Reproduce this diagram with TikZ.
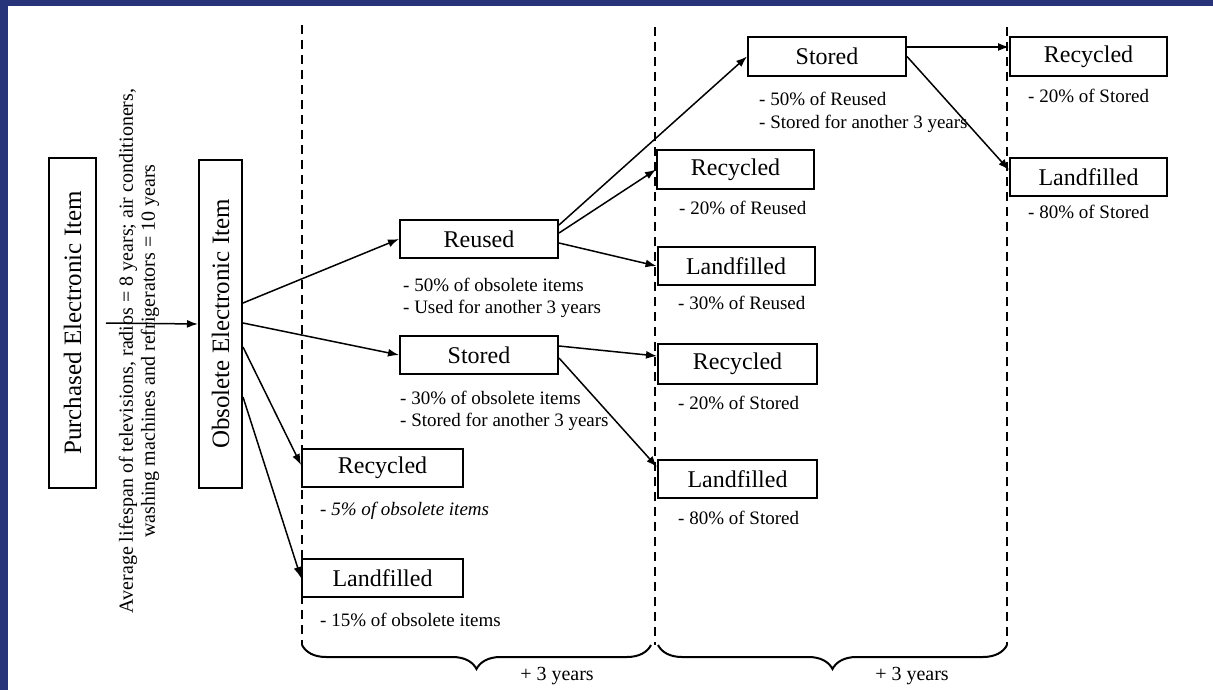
\documentclass[tikz,border=0pt]{standalone}
\usepackage{fontspec}
\setmainfont{Liberation Serif}
\usetikzlibrary{arrows.meta,decorations.pathreplacing,calc}
\definecolor{navy}{HTML}{27347A}
\begin{document}
\begin{tikzpicture}[x=1pt,y=-1pt,
  box/.style={draw,line width=2pt,fill=white,minimum width=158pt,minimum height=38pt,inner sep=0pt,font=\fontsize{24}{28}\selectfont},
  vbox/.style={draw,line width=2pt,fill=white,rotate=90,inner sep=0pt,font=\fontsize{25}{28}\selectfont},
  note/.style={anchor=base west,inner sep=0pt,font=\fontsize{19}{22}\selectfont},
  arr/.style={line width=1.5pt,-{Latex[length=11pt,width=8pt]}},
  sep/.style={line width=2pt,dash pattern=on 9pt off 6pt},
  brc/.style={line width=2pt,decorate,decoration={brace,mirror,amplitude=24pt}}
]
\useasboundingbox (0,0) rectangle (1213,690);
\fill[navy] (0,0) rectangle (1213,690);
\fill[white] (8,6) rectangle (1213,690);

% separators and braces
\draw[sep] (302,25) -- (302,645);
\draw[sep] (655,27) -- (655,645);
\draw[sep] (1007,27) -- (1007,645);
\draw[brc] (302,645) -- (651,645);
\draw[brc] (658,645) -- (1007,645);
\node[font=\fontsize{20}{22}\selectfont,inner sep=0pt] (y1) at (557,676) {+ 3 years};
\node[font=\fontsize{20}{22}\selectfont,inner sep=0pt] (y2) at (912,676) {+ 3 years};

% left column
\node[vbox,minimum width=330pt,minimum height=47pt] (purch) at (72.5,323) {Purchased Electronic Item};
\node[vbox,minimum width=328pt,minimum height=43pt] (obs) at (220.5,324) {Obsolete Electronic Item};
\node[rotate=90,align=center,inner sep=0pt,font=\fontsize{20}{22}\selectfont] (life) at (139,351)
  {Average lifespan of televisions, radios = 8 years; air conditioners,\\washing machines and refrigerators = 10 years};

% second column
\node[box] (reused) at (479,239) {Reused};
\node[note] (t1) at (403,291) {- 50\% of obsolete items};
\node[note] (t2) at (403,313) {- Used for another 3 years};
\node[box] (stored) at (479,355) {Stored};
\node[note] (t3) at (400,404) {- 30\% of obsolete items};
\node[note] (t4) at (400,426) {- Stored for another 3 years};
\node[box,minimum width=161pt] (rec2) at (382.5,468) {Recycled};
\node[note,font=\fontsize{19}{22}\selectfont\itshape] (t5) at (320,515) {- 5\% of obsolete items};
\node[box,minimum width=161pt] (lf2) at (382.5,578) {Landfilled};
\node[note] (t6) at (320,626) {- 15\% of obsolete items};

% third column
\node[box,minimum width=157pt] (rec3) at (735.5,169.5) {Recycled};
\node[note] (t7) at (679,214) {- 20\% of Reused};
\node[box,minimum width=157pt] (lf3) at (736,266) {Landfilled};
\node[note] (t8) at (678,309) {- 30\% of Reused};
\node[box,minimum width=159pt,minimum height=40pt] (rec4) at (737.5,364) {Recycled};
\node[note] (t9) at (678,409) {- 20\% of Stored};
\node[box,minimum width=159pt] (lf4) at (737.5,479) {Landfilled};
\node[note] (t10) at (678,524) {- 80\% of Stored};
\node[box,minimum height=39pt] (st3) at (827,56.5) {Stored};
\node[note] (t11) at (759,106) {- 50\% of Reused};
\node[note] (t12) at (759,129) {- Stored for another 3 years};

% fourth column
\node[box,minimum width=157pt,minimum height=39pt] (recR) at (1088.5,56.5) {Recycled};
\node[note] (t13) at (1028,103) {- 20\% of Stored};
\node[box,minimum width=157pt] (lfR) at (1088.5,177) {Landfilled};
\node[note] (t14) at (1028,218) {- 80\% of Stored};

% connectors
\draw[arr] ([xshift=9pt]purch.south) -- (obs.north);
\draw[arr] ([yshift=21pt]obs.south) -- (reused.west);
\draw[arr] ([yshift=1pt]obs.south) -- (stored.west);
\draw[arr] ([yshift=-23pt]obs.south) -- ([yshift=3pt]rec2.west);
\draw[arr] ([yshift=-73pt]obs.south) -- (lf2.west);
\draw[arr] ([yshift=14pt]reused.east) -- (st3.west);
\draw[arr] ([yshift=6pt]reused.east) -- (rec3.west);
\draw[arr] ([yshift=-4pt]reused.east) -- (lf3.west);
\draw[arr] ([yshift=9pt]stored.east) -- ([yshift=8pt]rec4.west);
\draw[arr] ([yshift=-3pt]stored.east) -- ([yshift=12pt]lf4.west);
\draw[arr] ([yshift=9.5pt]st3.east) -- ([yshift=9.5pt]recR.west);
\draw[arr] (st3.east) -- ([yshift=7pt]lfR.west);
\end{tikzpicture}
\end{document}
